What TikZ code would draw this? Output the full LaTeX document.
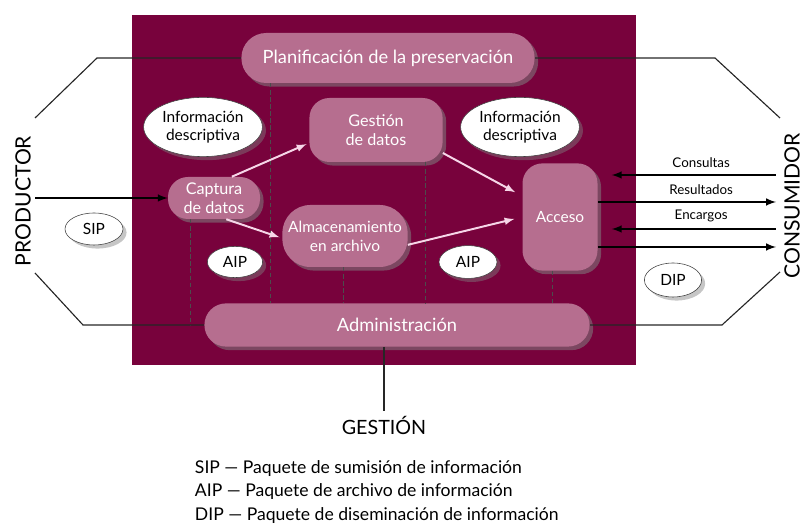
\documentclass[tikz,border=0pt]{standalone}
\usepackage{fontspec}
\setmainfont{Lato}
\usetikzlibrary{shapes.geometric, shadows}
\definecolor{vino}{RGB}{120,2,60}
\definecolor{malva}{RGB}{182,110,143}
\definecolor{rosa}{RGB}{246,214,232}

\begin{document}
\begin{tikzpicture}
\tikzset{proc/.style={rounded corners=0.5cm, fill=malva, text=white, align=center, inner sep=2pt,
    drop shadow={opacity=0.55}, font=\fontsize{11.5}{13.5}\selectfont},
paq/.style={ellipse, fill=white, draw=black!75, inner sep=1pt, drop shadow={opacity=0.45},
    font=\fontsize{11}{12}\selectfont},
info/.style={paq, align=center, minimum width=2.8cm, minimum height=1.48cm,
    font=\fontsize{11}{12.5}\selectfont},
f/.style={>=latex, line width=1.4pt},
flujo/.style={->, >=latex, draw=rosa, line width=1.4pt, shorten >=2pt},
linea/.style={draw=black!85, line width=0.8pt},
guia/.style={draw=black!70, densely dashed, line width=0.6pt},
actor/.style={rotate=90, anchor=north, inner sep=0pt, font=\fontsize{15}{17}\selectfont}};

\useasboundingbox (0,0) rectangle (20.05,13.225);
\fill[vino] (3.3,4.1) rectangle (15.9,12.85);

\node[proc, minimum width=7.33cm, minimum height=1.25cm, rounded corners=0.62cm,
    font=\fontsize{13}{15}\selectfont] (plan) at (9.7,11.775) {Planificación de la preservación};
\node[proc, minimum width=9.63cm, minimum height=1.08cm, rounded corners=0.54cm,
    font=\fontsize{13}{15}\selectfont] (admin) at (9.925,5.1) {Administración};
\node[proc, minimum width=3.33cm, minimum height=1.6cm] (gest) at (9.4,9.975) {Gestión\\de datos};
\node[proc, minimum width=3.13cm, minimum height=1.55cm, rounded corners=0.7cm,
    font=\fontsize{11}{13.5}\selectfont] (alm) at (8.625,7.325) {Almacenamiento\\en archivo};
\node[proc, minimum width=2.3cm, minimum height=1.05cm, inner sep=1pt] (captura) at (5.35,8.275) {Captura\\de datos};
\node[proc, minimum width=1.875cm, minimum height=2.68cm, font=\fontsize{11}{13}\selectfont] (acceso) at (14.0,7.8) {Acceso};

% dashed guides down to the administration box
\foreach \x/\de/\a in {6.75/plan/admin, 8.575/alm/admin, 10.625/gest/admin, 13.8/acceso/admin} {
	\draw[guia] (\x,0 |- \de.south) -- (\x,0 |- \a.north);
}
\draw[guia] (4.75,0 |- captura.south) -- (4.75,0 |- admin.west);

\node[info] (infoa) at (5.075,10.05) {Información\\descriptiva};
\node[info] (infob) at (13.0,10.05) {Información\\descriptiva};
\node[paq, minimum width=1.45cm, minimum height=0.8cm] (sip) at (2.35,7.5) {SIP};
\node[paq, minimum width=1.38cm, minimum height=0.78cm] (aipa) at (5.875,6.675) {AIP};
\node[paq, minimum width=1.45cm, minimum height=0.82cm] (aipb) at (11.7,6.675) {AIP};
\node[paq, minimum width=1.43cm, minimum height=0.85cm] (dip) at (16.825,6.225) {DIP};

\node[actor] (prod) at (0.375,8.2) {PRODUCTOR};
\node[actor] (cons) at (19.6,8.075) {CONSUMIDOR};
\node[font=\fontsize{14}{16}\selectfont] (gestion) at (9.6,2.6) {GESTIÓN};

% outer frame lines
\coordinate (pa) at (2.425,11.775);
\coordinate (pb) at (0.875,10.275);
\coordinate (pc) at (17.875,11.775);
\coordinate (pd) at (19.5,10.275);
\coordinate (qa) at (2.075,5.1);
\coordinate (qb) at (0.875,6.4);
\coordinate (qc) at (18.05,5.1);
\coordinate (qd) at (19.5,6.425);
\draw[linea] (plan.west) -- (pa) -- (pb);
\draw[linea] (plan.east) -- (pc) -- (pd);
\draw[linea] (admin.west) -- (qa) -- (qb);
\draw[linea] (admin.east) -- (qc) -- (qd);
\draw[linea] (admin.south -| gestion) -- (gestion.north);

\coordinate (entrada) at (0.875,8.275);
\draw[f, ->] (entrada) -- (captura.west);

\foreach \n/\y in {c1/8.85, c2/8.175, c3/7.5, c4/7.05} {
	\coordinate (\n) at (19.4,\y);
}
\draw[f, <-, shorten <=0.35cm] (acceso.east |- c1) -- node[pos=0.58, above=1pt, font=\fontsize{9.5}{11}\selectfont] {Consultas} (c1);
\draw[f, ->] (acceso.east |- c2) -- node[pos=0.58, above=1pt, font=\fontsize{9.5}{11}\selectfont] {Resultados} (c2);
\draw[f, <-, shorten <=0.35cm] (acceso.east |- c3) -- node[pos=0.58, above=1pt, font=\fontsize{9.5}{11}\selectfont] {Encargos} (c3);
\draw[f, ->] (acceso.east |- c4) -- (c4);

\draw[flujo] (captura.50) -- (gest.191);
\draw[flujo] (captura.-60) -- (alm.182);
\draw[flujo, shorten >=0.2cm] (gest.-19) -- (acceso.151);
\draw[flujo, shorten >=0.2cm] (alm.-8) -- (acceso.west);

\node[anchor=west, align=left, font=\fontsize{12.5}{16.4}\selectfont] (leyenda) at (4.75,0.925)
	{SIP — Paquete de sumisión de información\\
	 AIP — Paquete de archivo de información\\
	 DIP — Paquete de diseminación de información};

\end{tikzpicture}
\end{document}
